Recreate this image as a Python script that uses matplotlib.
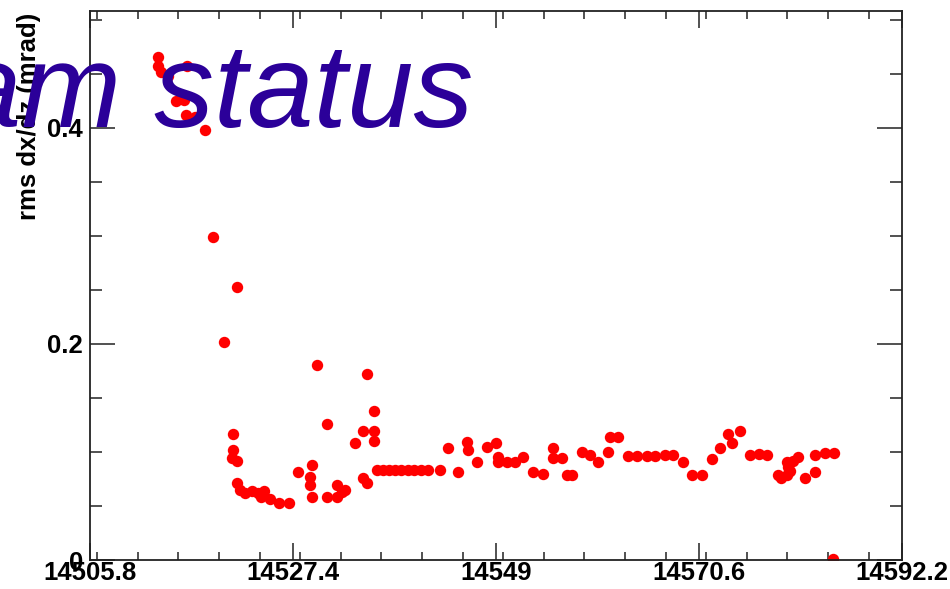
import matplotlib.pyplot as plt
from matplotlib.ticker import FixedLocator, MultipleLocator

# run number vs rms dx/dz
run = [14513.0, 14513.0, 14513.4, 14514.1, 14516.1, 14515.0, 14515.8, 14516.0, 14517.0, 14518.0,
       14518.9, 14520.1, 14521.4, 14521.0, 14521.0, 14520.9, 14521.4, 14521.4, 14521.8, 14522.3,
       14523.0, 14523.7, 14524.3, 14524.0, 14524.9, 14525.9, 14527.0, 14527.9, 14529.2, 14529.2,
       14529.4, 14529.4, 14530.0, 14531.0, 14531.0, 14532.1, 14532.6, 14532.9, 14532.1, 14534.0,
       14534.8, 14534.8, 14535.3, 14535.3, 14536.0, 14536.0, 14536.0, 14536.3, 14537.0, 14537.6,
       14538.3, 14538.9, 14539.6, 14540.3, 14541.0, 14541.8, 14543.0, 14543.9, 14545.0, 14545.9,
       14546.0, 14547.0, 14548.0, 14549.0, 14549.2, 14549.2, 14550.2, 14551.0, 14551.9, 14552.9,
       14554.0, 14555.1, 14555.1, 14556.0, 14556.6, 14557.1, 14558.2, 14559.0, 14559.9, 14560.9,
       14561.1, 14562.0, 14563.0, 14564.0, 14565.1, 14565.9, 14567.0, 14567.8, 14568.9, 14569.9,
       14570.9, 14572.0, 14572.8, 14573.7, 14574.1, 14575.0, 14576.0, 14577.0, 14577.8, 14579.0,
       14579.3, 14580.0, 14580.1, 14580.3, 14580.6, 14581.1, 14580.0, 14581.9, 14582.9, 14582.9,
       14584.0, 14585.0, 14584.9]
rms = [0.465, 0.457, 0.452, 0.448, 0.457, 0.425, 0.426, 0.412, 0.410, 0.398,
       0.299, 0.202, 0.253, 0.117, 0.102, 0.094, 0.092, 0.071, 0.065, 0.062,
       0.064, 0.062, 0.064, 0.058, 0.056, 0.053, 0.053, 0.081, 0.077, 0.069,
       0.088, 0.058, 0.180, 0.126, 0.058, 0.069, 0.063, 0.065, 0.058, 0.108,
       0.119, 0.076, 0.071, 0.172, 0.138, 0.119, 0.110, 0.083, 0.083, 0.083,
       0.083, 0.083, 0.083, 0.083, 0.083, 0.083, 0.083, 0.104, 0.081, 0.109,
       0.102, 0.091, 0.105, 0.108, 0.095, 0.091, 0.091, 0.091, 0.095, 0.081,
       0.080, 0.104, 0.094, 0.094, 0.079, 0.079, 0.100, 0.097, 0.091, 0.100,
       0.114, 0.114, 0.096, 0.096, 0.096, 0.096, 0.097, 0.097, 0.091, 0.079,
       0.079, 0.093, 0.104, 0.117, 0.108, 0.119, 0.097, 0.098, 0.097, 0.079,
       0.076, 0.079, 0.086, 0.082, 0.092, 0.095, 0.091, 0.076, 0.081, 0.097,
       0.099, 0.099, 0.001]

xticks = [14505.8, 14527.4, 14549, 14570.6, 14592.2]
xlabels = ["14505.8", "14527.4", "14549", "14570.6", "14592.2"]
yticks = [0, 0.2, 0.4]
ylabels = ["0", "0.2", "0.4"]

plt.rcParams['font.family'] = ['Liberation Sans', 'DejaVu Sans']

fig = plt.figure(figsize=(9.5, 5.89), dpi=100)
ax = fig.add_axes([90/950, 29/589, 812/950, 549/589])

ax.plot(run, rms, linestyle="", marker="o", markersize=8.2, color="red", markeredgewidth=0)

ax.set_xlim(14505.8, 14592.2)
ax.set_ylim(0, 0.508)
ax.xaxis.set_major_locator(FixedLocator(xticks))
ax.set_xticklabels(xlabels)
ax.xaxis.set_minor_locator(MultipleLocator(4.32))
ax.yaxis.set_major_locator(FixedLocator(yticks))
ax.set_yticklabels(ylabels)
ax.yaxis.set_minor_locator(MultipleLocator(0.05))

ax.tick_params(axis='both', which='both', direction='in', top=True, right=True,
               color='#222222', width=1.1)
ax.tick_params(axis='x', which='major', length=12, pad=1)
ax.tick_params(axis='x', which='minor', length=6)
ax.tick_params(axis='y', which='major', length=18, pad=5)
ax.tick_params(axis='y', which='minor', length=8.6)
for lab in ax.get_xticklabels() + ax.get_yticklabels():
    lab.set_fontsize(18.5)
    lab.set_fontweight('bold')
for s in ax.spines.values():
    s.set_linewidth(1.3)
    s.set_color('#222222')

fig.text(29/950, 1 - 13/589, "rms dx/dz (mrad)", rotation=90, ha='center', va='top',
         fontsize=18.5, fontweight='bold')

fig.text(473/950, 1 - 127/589, "am status", ha='right', va='baseline',
         fontsize=86, style='italic', color='#2B0099', zorder=10)

fig.savefig("out.png", dpi=100)
